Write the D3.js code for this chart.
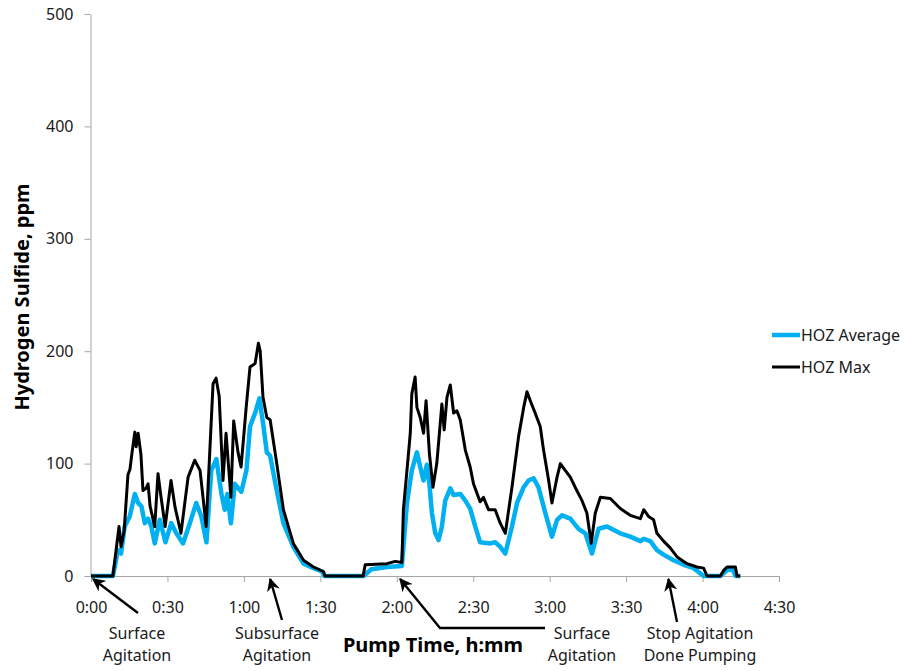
<!DOCTYPE html>
<html>
<head>
<meta charset="utf-8">
<script src="https://cdn.jsdelivr.net/npm/d3@7"></script>
<style>
  body { margin: 0; background: #fff; }
  svg { display: block; font-family: "Noto Sans", sans-serif; }
</style>
</head>
<body>
<div id="chart"></div>
<script>
// pump time in minutes, H2S in ppm
const avgTime = [0, 8.6, 10.6, 11.8, 13.2, 15.2, 17.2, 18.5, 19.8, 21.1, 22.4, 23.7, 25.0, 27.0, 29.2, 31.5, 33.5, 36.1, 38.8, 41.3, 43.3, 45.3, 47.2, 49.2, 51.2, 52.5, 53.5, 54.9, 56.4, 59.0, 61.0, 62.4, 64.4, 66.1, 67.7, 69.0, 70.3, 72.9, 75.5, 79.4, 83.4, 87.3, 90.6, 91.5, 107.0, 110.0, 116.1, 122.0, 124.0, 125.9, 127.9, 129.2, 130.5, 131.8, 132.8, 133.8, 135.1, 136.4, 137.7, 139.0, 141.0, 142.3, 144.9, 146.9, 148.8, 150.8, 152.7, 156.7, 158.6, 160.6, 162.6, 165.2, 167.2, 169.8, 171.7, 173.7, 175.6, 178.3, 180.9, 182.9, 184.8, 188.1, 191.3, 194.0, 196.6, 199.2, 202.5, 207.7, 211.6, 215.6, 216.9, 219.5, 222.1, 224.7, 228.6, 232.6, 236.5, 240.4, 247.0, 249.6, 251.6, 252.9, 254.8];
const avgPpm = [0, 0, 23, 20, 44, 53, 73, 65, 62, 47, 51, 44, 29, 50, 30, 47, 38, 29, 47, 65, 53, 30, 94, 104, 73, 59, 73, 47, 82, 75, 94, 133, 145, 158, 133, 110, 107, 76, 47, 26, 11, 7, 4, 0, 0, 6, 8, 9, 65, 94, 110, 97, 85, 99, 82, 56, 38, 32, 44, 67, 78, 72, 73, 67, 60, 44, 30, 29, 30, 26, 20, 44, 65, 79, 85, 87, 79, 56, 35, 50, 54, 51, 42, 38, 20, 42, 44, 38, 35, 31, 33, 31, 23, 19, 14, 10, 7, 0, 0, 5, 7, 0, 0];

const maxTime = [0, 8.6, 11.0, 11.8, 13.0, 14.5, 15.3, 16.0, 17.2, 17.7, 18.5, 19.6, 20.4, 21.6, 22.4, 23.2, 25.0, 26.3, 27.5, 29.1, 31.4, 33.0, 35.3, 38.1, 40.7, 42.8, 45.2, 47.9, 49.1, 50.3, 51.8, 53.0, 54.9, 56.0, 57.7, 58.9, 60.9, 62.4, 64.4, 65.7, 66.4, 67.5, 69.0, 70.3, 72.9, 75.5, 79.4, 83.4, 87.3, 91.2, 91.9, 106.8, 107.6, 116.1, 119.4, 122.0, 122.6, 124.0, 125.3, 125.9, 127.2, 127.9, 129.2, 130.5, 131.5, 132.8, 134.2, 135.7, 137.7, 138.6, 139.7, 141.0, 142.3, 143.6, 144.9, 146.9, 148.8, 150.1, 152.7, 154.0, 156.0, 158.6, 160.6, 162.6, 165.2, 167.8, 169.8, 171.1, 172.4, 174.3, 176.3, 177.6, 179.6, 180.9, 182.9, 184.2, 186.1, 188.1, 190.0, 192.7, 194.6, 196.3, 197.9, 199.9, 203.8, 207.7, 211.6, 215.6, 216.9, 218.8, 220.8, 222.1, 224.7, 227.3, 230.0, 233.9, 237.8, 240.4, 241.8, 247.0, 248.3, 249.6, 252.9, 253.5, 254.8];
const maxPpm = [0, 0, 44, 26, 40, 90, 95, 108, 128, 115, 127, 108, 76, 78, 82, 62, 44, 91, 70, 44, 85, 61, 38, 88, 103, 94, 44, 171, 176, 160, 85, 127, 70, 138, 110, 97, 150, 186, 189, 207, 200, 159, 141, 139, 100, 59, 29, 14, 8, 4, 0, 0, 10, 11, 13, 12, 59, 94, 127, 162, 177, 150, 141, 127, 156, 109, 79, 100, 153, 130, 159, 170, 145, 147, 139, 112, 97, 82, 66, 70, 59, 59, 47, 38, 79, 124, 150, 164, 156, 145, 133, 112, 85, 65, 88, 100, 94, 88, 79, 67, 56, 29, 56, 70, 69, 60, 54, 51, 59, 53, 50, 38, 31, 25, 17, 11, 8, 7, 0, 0, 5, 8, 8, 0, 0];

const xTicks = [0, 30, 60, 90, 120, 150, 180, 210, 240, 270];
const yTicks = [0, 100, 200, 300, 400, 500];
const seriesNames = ["HOZ Average", "HOZ Max"];
const seriesColors = ["#00b0f0", "#000000"];

// event notes: time the arrow points at
const notes = [
  { t: 0.8, lines: ["Surface", "Agitation"] },
  { t: 70.3, lines: ["Subsurface", "Agitation"] },
  { t: 121.3, lines: ["Surface", "Agitation"] },
  { t: 226.6, lines: ["Stop Agitation", "Done Pumping"] }
];

const width = 908, height = 671;
const x = d3.scaleLinear().domain([0, 270]).range([91, 779]);
const y = d3.scaleLinear().domain([0, 500]).range([576, 14]);

const svg = d3.select("#chart").append("svg")
  .attr("width", width)
  .attr("height", height);

svg.append("defs").append("marker")
  .attr("id", "arrow")
  .attr("viewBox", "0 0 10 10")
  .attr("refX", 9).attr("refY", 5)
  .attr("markerWidth", 5.5).attr("markerHeight", 5.5)
  .attr("orient", "auto-start-reverse")
  .append("path")
  .attr("d", "M0,0L10,5L0,10L3,5z")
  .attr("fill", "#000");

const fmt = m => `${Math.floor(m / 60)}:${String(m % 60).padStart(2, "0")}`;

// axes
svg.append("g")
  .attr("transform", `translate(0,${y(0)})`)
  .call(d3.axisBottom(x).tickValues(xTicks).tickFormat(fmt).tickSize(6).tickSizeOuter(0))
  .call(g => g.select(".domain").attr("stroke", "#a6a6a6"))
  .call(g => g.selectAll(".tick line").attr("stroke", "#a6a6a6"))
  .call(g => g.selectAll("text")
    .attr("y", 37).attr("dy", 0)
    .attr("font-size", 16).attr("font-family", "Noto Sans").attr("fill", "#1a1a1a"));

svg.append("g")
  .attr("transform", `translate(${x(0) - 0.5},0)`)
  .call(d3.axisLeft(y).tickValues(yTicks).tickSize(6).tickSizeOuter(0).tickPadding(11))
  .call(g => g.select(".domain").attr("stroke", "#a6a6a6"))
  .call(g => g.selectAll(".tick line").attr("stroke", "#a6a6a6"))
  .call(g => g.selectAll("text")
    .attr("font-size", 16).attr("font-family", "Noto Sans").attr("fill", "#1a1a1a"));

// series
const line = d3.line().x(d => x(d[0])).y(d => y(d[1]));
const avgData = d3.zip(avgTime, avgPpm);
const maxData = d3.zip(maxTime, maxPpm);

svg.append("path")
  .datum(avgData)
  .attr("d", line)
  .attr("fill", "none")
  .attr("stroke", seriesColors[0])
  .attr("stroke-width", 4.5)
  .attr("stroke-linejoin", "round");

svg.append("path")
  .datum(maxData)
  .attr("d", line)
  .attr("fill", "none")
  .attr("stroke", seriesColors[1])
  .attr("stroke-width", 3)
  .attr("stroke-linejoin", "round");

// axis titles
svg.append("text")
  .attr("transform", "translate(29,297) rotate(-90)")
  .attr("text-anchor", "middle")
  .attr("font-size", 20).attr("font-weight", "bold")
  .text("Hydrogen Sulfide, ppm");

svg.append("text")
  .attr("x", 433).attr("y", 652)
  .attr("text-anchor", "middle")
  .attr("font-size", 20).attr("font-weight", "bold")
  .text("Pump Time, h:mm");

// legend
const legend = svg.append("g");
seriesNames.forEach((name, i) => {
  const ly = 335 + i * 32;
  legend.append("line")
    .attr("x1", 772).attr("x2", 800)
    .attr("y1", ly).attr("y2", ly)
    .attr("stroke", seriesColors[i])
    .attr("stroke-width", i === 0 ? 4.5 : 3);
  legend.append("text")
    .attr("x", 801).attr("y", ly).attr("dy", "0.35em")
    .attr("font-size", 16).attr("fill", "#1a1a1a")
    .text(name);
});

// annotations
const tails = [
  { path: [[138, 613]], tx: 137 },
  { path: [[282, 620]], tx: 277 },
  { path: [[545, 628], [440, 628]], tx: 582 },
  { path: [[677, 622]], tx: 700 }
];
notes.forEach((n, i) => {
  const tip = [x(n.t), y(0) + 3];
  const pts = tails[i].path.concat([tip]);
  svg.append("path")
    .attr("d", d3.line()(pts))
    .attr("fill", "none")
    .attr("stroke", "#000")
    .attr("stroke-width", 2.4)
    .attr("marker-end", "url(#arrow)");
  n.lines.forEach((s, j) => {
    svg.append("text")
      .attr("x", tails[i].tx).attr("y", 639 + j * 22)
      .attr("text-anchor", "middle")
      .attr("font-size", 16).attr("fill", "#1a1a1a")
      .text(s);
  });
});
</script>
</body>
</html>
